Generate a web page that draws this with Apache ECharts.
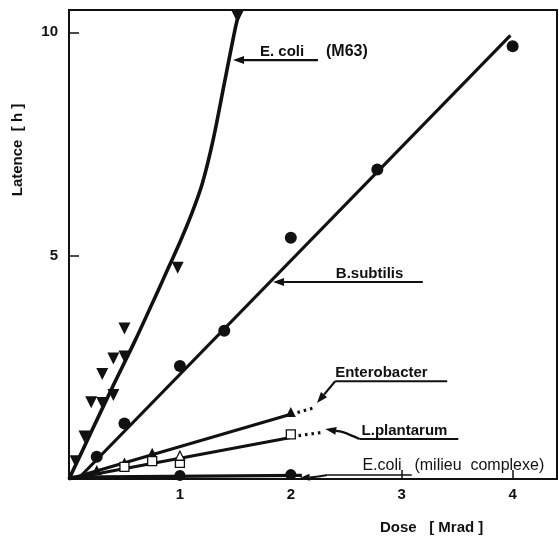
<!DOCTYPE html>
<html>
<head>
<meta charset="utf-8">
<script src="https://cdn.jsdelivr.net/npm/echarts@6/dist/echarts.min.js"></script>
<style>
  html, body { margin: 0; padding: 0; background: #fff; }
  #chart { width: 559px; height: 538px; }
</style>
</head>
<body>
<div id="chart"></div>
<script>
// Latency (h) versus irradiation dose (Mrad) for several bacteria.

// E. coli in minimal medium M63 (inverted triangles) and its fitted curve
const ecoliM63Dose = [0.06, 0.14, 0.2, 0.3, 0.3, 0.4, 0.4, 0.5, 0.5, 0.98, 1.52];
const ecoliM63Lat  = [0.40, 0.95, 1.72, 1.70, 2.35, 1.88, 2.70, 2.74, 3.37, 4.73, 10.35];
const ecoliM63CurveDose = [0, 0.2, 0.4, 0.6, 0.8, 0.9, 1.0, 1.1, 1.2, 1.3, 1.4, 1.5, 1.54];
const ecoliM63CurveLat  = [0, 1.05, 2.1, 3.12, 4.2, 4.75, 5.3, 5.9, 6.6, 7.6, 8.85, 10.1, 10.5];

// B. subtilis (filled circles) and its straight fit
const bsubDose = [0.25, 0.5, 1.0, 1.4, 2.0, 2.78, 4.0];
const bsubLat  = [0.50, 1.24, 2.53, 3.32, 5.40, 6.93, 9.69];
const bsubFitDose = [0.08, 3.98];
const bsubFitLat  = [0, 9.93];

// Enterobacter (filled triangles)
const enteroDose = [0.25, 0.5, 0.75, 2.0];
const enteroLat  = [0.20, 0.37, 0.59, 1.50];
const enteroFitDose = [0, 2.0];
const enteroFitLat  = [0, 1.45];
const enteroExtDose = [2.06, 2.22];
const enteroExtLat  = [1.49, 1.60];

// L. plantarum (open squares, one open triangle)
const plantDose = [0.5, 0.75, 1.0, 2.0];
const plantLat  = [0.27, 0.40, 0.36, 1.00];
const plantTriDose = [1.0];
const plantTriLat  = [0.52];
const plantFitDose = [0, 2.0];
const plantFitLat  = [0, 0.93];
const plantExtDose = [2.07, 2.30];
const plantExtLat  = [0.97, 1.05];

// E. coli in complex medium (filled circles)
const ecoliCDose = [1.0, 2.0];
const ecoliCLat  = [0.08, 0.10];
const ecoliCFitDose = [0, 2.1];
const ecoliCFitLat  = [0.04, 0.08];

// Axis ticks
const doseTicks = [1, 2, 3, 4];
const latTicks = [5, 10];

const pairs = (xs, ys) => xs.map((x, i) => [x, ys[i]]);
const INK = '#111';
const FONT = 'Liberation Sans, Arial, Helvetica, sans-serif';

const chart = echarts.init(document.getElementById('chart'), null, { renderer: 'canvas' });

function fitLine(xs, ys, width, opts) {
  return Object.assign({
    type: 'line', data: pairs(xs, ys), symbol: 'none', silent: true,
    lineStyle: { color: INK, width: width }, z: 2
  }, opts || {});
}
function dots(xs, ys, symbol, size, opts) {
  return Object.assign({
    type: 'scatter', data: pairs(xs, ys), symbol: symbol, symbolSize: size,
    itemStyle: { color: INK, opacity: 1 }, z: 3, silent: true
  }, opts || {});
}
const openStyle = { color: '#fff', borderColor: INK, borderWidth: 1.3, opacity: 1 };

chart.setOption({
  animation: false,
  backgroundColor: '#fff',
  grid: { left: 69, right: 2, top: 10, bottom: 59, show: true, borderColor: INK, borderWidth: 2 },
  xAxis: {
    type: 'value', min: 0, max: 4.4, interval: 1,
    axisLine: { show: true, lineStyle: { color: INK, width: 2 } },
    axisTick: { show: true, inside: true, length: 9, lineStyle: { color: INK, width: 1.5 },
      customValues: doseTicks },
    axisLabel: {
      customValues: doseTicks,
      color: INK, fontSize: 15, fontWeight: 'bold', fontFamily: FONT, margin: 8
    },
    splitLine: { show: false }
  },
  yAxis: {
    type: 'value', min: 0, max: 10.5, interval: 5,
    axisLine: { show: true, lineStyle: { color: INK, width: 2 } },
    axisTick: { show: true, inside: true, length: 10, lineStyle: { color: INK, width: 1.5 },
      customValues: latTicks },
    axisLabel: {
      customValues: latTicks,
      color: INK, fontSize: 15, fontWeight: 'bold', fontFamily: FONT, margin: 11
    },
    splitLine: { show: false }
  },
  series: [
    fitLine(ecoliM63CurveDose, ecoliM63CurveLat, 3.6, { smooth: 0.3 }),
    fitLine(bsubFitDose, bsubFitLat, 3.2),
    fitLine(enteroFitDose, enteroFitLat, 3),
    fitLine(enteroExtDose, enteroExtLat, 3, { lineStyle: { color: INK, width: 3.2, type: [2.5, 4] } }),
    fitLine(plantFitDose, plantFitLat, 3),
    fitLine(plantExtDose, plantExtLat, 3, { lineStyle: { color: INK, width: 3.2, type: [2.5, 4] } }),
    fitLine(ecoliCFitDose, ecoliCFitLat, 3.2),
    dots(ecoliM63Dose, ecoliM63Lat, 'triangle', 12, { symbolRotate: 180 }),
    dots(bsubDose, bsubLat, 'circle', 12),
    dots(enteroDose, enteroLat, 'triangle', 10),
    dots(plantDose, plantLat, 'rect', 9, { itemStyle: openStyle }),
    dots(plantTriDose, plantTriLat, 'triangle', 9, { itemStyle: openStyle }),
    dots(ecoliCDose, ecoliCLat, 'circle', 11)
  ]
});

// Annotation arrows: anchor points are given in (dose, latency) units.
const P = (x, y) => chart.convertToPixel({ gridIndex: 0 }, [x, y]);

function arrow(pts, headLen, headW) {
  headLen = headLen || 11; headW = headW || 8;
  const n = pts.length;
  const a = pts[n - 2], b = pts[n - 1];
  const dx = b[0] - a[0], dy = b[1] - a[1];
  const len = Math.hypot(dx, dy);
  const ux = dx / len, uy = dy / len;
  const base = [b[0] - ux * headLen, b[1] - uy * headLen];
  const nx = -uy * headW / 2, ny = ux * headW / 2;
  const linePts = pts.slice(0, n - 1).concat([base]);
  return [
    { type: 'polyline', shape: { points: linePts, smooth: n > 2 ? 0.4 : 0 },
      style: { stroke: INK, lineWidth: 2.2, fill: null }, z: 10 },
    { type: 'polygon', shape: { points: [b, [base[0] + nx, base[1] + ny], [base[0] - nx, base[1] - ny]] },
      style: { fill: INK }, z: 10 }
  ];
}
function label(text, x, y, opts) {
  return {
    type: 'text', z: 11,
    style: Object.assign({
      text: text, x: x, y: y, fill: INK, fontSize: 15, fontWeight: 'bold',
      fontFamily: FONT, align: 'left', verticalAlign: 'bottom'
    }, opts || {})
  };
}
function rule(x1, x2, y, w) {
  return { type: 'line', shape: { x1: x1, y1: y, x2: x2, y2: y },
    style: { stroke: INK, lineWidth: w || 2 }, z: 10 };
}

const els = [];

// E. coli (M63)
const m63Tail = P(2.245, 9.38), m63Head = P(1.479, 9.38);
els.push(...arrow([m63Tail, m63Head]));
els.push(label('E. coli', m63Tail[0] - 58, m63Tail[1] - 1));
els.push(label('(M63)', m63Tail[0] + 8, m63Tail[1] - 8, { verticalAlign: 'middle', fontSize: 16 }));

// B. subtilis
const bsTail = P(3.19, 4.41), bsHead = P(1.84, 4.41);
els.push(...arrow([bsTail, bsHead]));
els.push(label('B.subtilis', bsTail[0] - 87, bsTail[1] - 1));

// Enterobacter
const enU1 = P(3.41, 2.19), enU0 = P(2.40, 2.19), enHead = P(2.236, 1.70);
els.push(rule(enU0[0], enU1[0], enU0[1]));
els.push(...arrow([enU0, enHead]));
els.push(label('Enterobacter', enU0[0], enU0[1] - 1));

// L. plantarum
const plU1 = P(3.51, 0.895), plU0 = P(2.62, 0.895), plMid = P(2.47, 1.05), plHead = P(2.31, 1.12);
els.push(rule(plU0[0], plU1[0], plU0[1]));
els.push(...arrow([plU0, plMid, plHead]));
els.push(label('L.plantarum', plU0[0] + 2, plU0[1] - 1));

// E. coli (milieu complexe)
const ecU1 = P(3.09, 0.09), ecU0 = P(2.33, 0.09), ecMid = P(2.21, 0.045), ecHead = P(2.08, 0.02);
els.push(rule(ecU0[0], ecU1[0], ecU0[1], 1.5));
els.push(...arrow([ecU0, ecMid, ecHead], 10, 7));
els.push(label('E.coli', ecU0[0] + 35, ecU0[1] - 1, { fontWeight: 'normal', fontSize: 16 }));
els.push(label('(milieu  complexe)', ecU0[0] + 87, ecU0[1] - 1, { fontWeight: 'normal', fontSize: 16 }));

// Axis titles
els.push({
  type: 'text', x: 18, y: 150, rotation: Math.PI / 2, z: 11,
  style: { text: 'Latence  [ h ]', fill: INK, fontSize: 15, fontWeight: 'bold', fontFamily: FONT,
    align: 'center', verticalAlign: 'middle' }
});
els.push(label('Dose   [ Mrad ]', 380, 528, { verticalAlign: 'middle', fontSize: 15 }));

chart.setOption({ graphic: { elements: els } });
</script>
</body>
</html>
